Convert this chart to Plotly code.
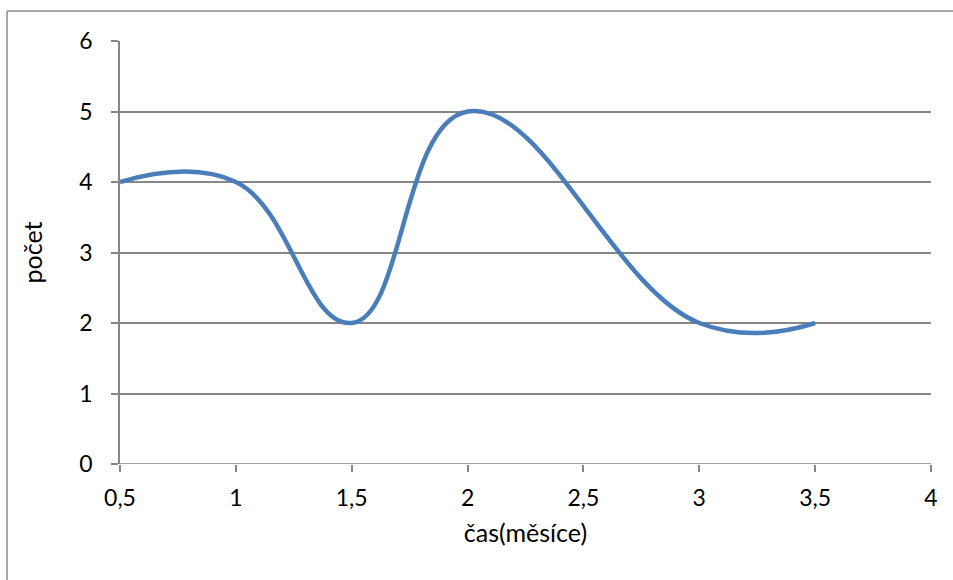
import plotly.graph_objects as go

x_vals = [0.5, 1, 1.5, 2, 3, 3.5]
y_vals = [4, 4, 2, 5, 2, 2]
x_ticks = [0.5, 1, 1.5, 2, 2.5, 3, 3.5, 4]
x_tick_labels = ["0,5", "1", "1,5", "2", "2,5", "3", "3,5", "4"]
y_ticks = [0, 1, 2, 3, 4, 5, 6]

W, H = 953, 580

fig = go.Figure()
fig.add_trace(go.Scatter(
    x=x_vals, y=y_vals, mode="lines",
    line=dict(color="#4A7EBB", width=4.5, shape="spline", smoothing=1.25),
    showlegend=False,
))

font = dict(family="Lato", size=23, color="#000000")
tfont = dict(family="Lato", size=25, color="#000000")
grid = "#868686"
border = "#8C8C8C"

fig.update_layout(
    width=W, height=H,
    margin=dict(l=0, r=0, t=0, b=0, autoexpand=False),
    paper_bgcolor="white", plot_bgcolor="white",
    font=font,
    xaxis=dict(
        domain=[120 / W, 931 / W],
        range=[0.5, 4], tickmode="array", tickvals=x_ticks, ticktext=x_tick_labels,
        showgrid=False, zeroline=False, showline=False,
        ticks="outside", ticklen=7, tickcolor=grid, tickwidth=1.5,
        tickfont=font, ticklabelstandoff=6,
        title=dict(text="čas(měsíce)", font=tfont, standoff=14),
    ),
    yaxis=dict(
        domain=[1 - 464 / H, 1 - 41 / H],
        range=[0, 6], tickmode="array", tickvals=y_ticks,
        showgrid=True, gridcolor=grid, gridwidth=1.5,
        zeroline=False, showline=True, linecolor=grid, linewidth=1.5,
        ticks="outside", ticklen=7, tickcolor=grid, tickwidth=1.5,
        tickfont=font, ticklabelstandoff=14,
        title=dict(text="počet", font=tfont, standoff=30),
    ),
    shapes=[
        dict(type="line", xref="paper", yref="paper",
             x0=7 / W, x1=1, y0=1 - 11 / H, y1=1 - 11 / H,
             line=dict(color=border, width=1.5)),
        dict(type="line", xref="paper", yref="paper",
             x0=7 / W, x1=7 / W, y0=1 - 11 / H, y1=0,
             line=dict(color=border, width=1.5)),
        dict(type="line", xref="x", yref="y", x0=0.5, x1=4, y0=0, y1=0,
             line=dict(color=grid, width=1.5)),
    ],
)

fig.write_html("out.html")
